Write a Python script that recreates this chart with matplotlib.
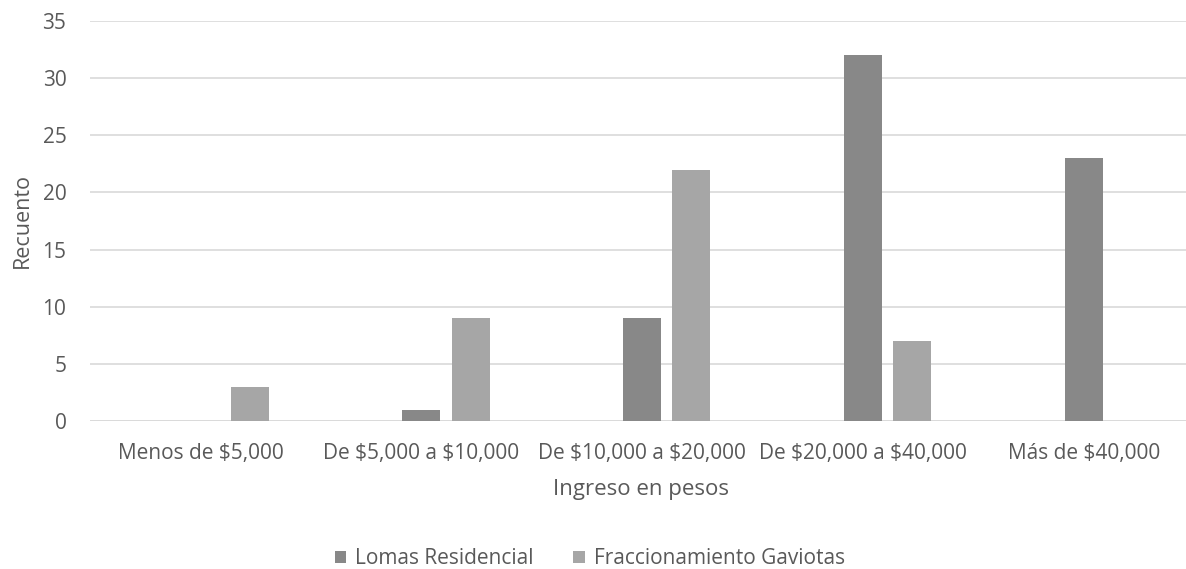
import numpy as np
import matplotlib.pyplot as plt

# datos del grafico
categorias = ["Menos de $5,000", "De $5,000 a $10,000", "De $10,000 a $20,000",
              "De $20,000 a $40,000", "Más de $40,000"]
lomas = [0, 1, 9, 32, 23]
gaviotas = [3, 9, 22, 7, 0]
yticks = [0, 5, 10, 15, 20, 25, 30, 35]

plt.rcParams['font.family'] = ['Open Sans', 'DejaVu Sans']
plt.rcParams['text.parse_math'] = False
txt = "#595959"

fig = plt.figure(figsize=(11.86, 5.69), dpi=100)
ax = fig.add_axes([90 / 1186, 148 / 569, 1 - 90 / 1186, 400 / 569])

x = np.arange(len(categorias))
w = 0.172
off = 0.222
# primera serie vacia en Excel, por eso las barras quedan desplazadas
ax.bar(x, lomas, w, color="#888888", label="Lomas Residencial", zorder=3)
ax.bar(x + off, gaviotas, w, color="#A6A6A6", label="Fraccionamiento Gaviotas", zorder=3)

ax.set_xlim(-0.5, 4.46)
ax.set_ylim(0, 35)
ax.set_yticks(yticks)
ax.set_xticks(x)
ax.set_xticklabels(categorias)
ax.yaxis.grid(True, color="#D9D9D9", linewidth=1.2, zorder=0)
for s in ax.spines.values():
    s.set_visible(False)
ax.axhline(0, color="#D9D9D9", linewidth=1.2, zorder=2)
ax.tick_params(axis="both", length=0, labelsize=15, colors=txt)
ax.tick_params(axis="x", pad=16)
ax.tick_params(axis="y", pad=17)

ax.set_xlabel("Ingreso en pesos", fontsize=16, color=txt)
ax.set_ylabel("Recuento", fontsize=15.5, color=txt)
ax.xaxis.set_label_coords(551 / 1096, -58 / 400)
ax.yaxis.set_label_coords(-57 / 1096, 200 / 400)

leg = fig.legend(loc="center", bbox_to_anchor=(590 / 1186, 1 - 559 / 569), ncol=2,
                 frameon=False, fontsize=15, handlelength=0.55, handleheight=0.55,
                 handletextpad=0.45, columnspacing=1.9, borderpad=0)
for t in leg.get_texts():
    t.set_color(txt)

fig.savefig("out.png", dpi=100)
